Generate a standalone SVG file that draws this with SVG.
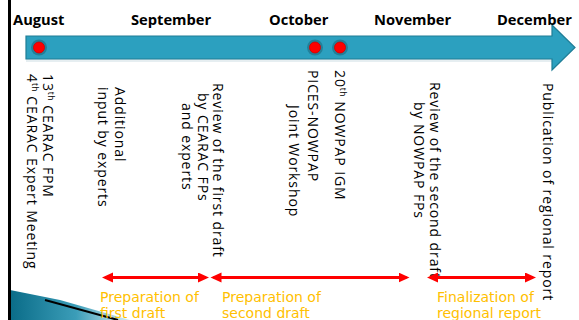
<svg xmlns="http://www.w3.org/2000/svg" width="579" height="320" viewBox="0 0 579 320">
<defs>
<style>
.month{font-family:"Open Sans","DejaVu Sans",sans-serif;font-weight:bold;font-size:14.7px;fill:#000}
.ev{font-family:"Open Sans","DejaVu Sans",sans-serif;font-size:14px;letter-spacing:0.9px;fill:#000}
.sup{font-size:8.5px;letter-spacing:0.3px}
.phase{font-family:"DejaVu Sans","Open Sans",sans-serif;font-size:14px;fill:#FFC000}
.conn line{stroke:#FF0000;stroke-width:3}
</style>
<marker id="ah" markerUnits="userSpaceOnUse" markerWidth="12" markerHeight="12" refX="8" refY="5" orient="auto-start-reverse">
<path d="M0,0 L11,5 L0,10 z" fill="#FF0000"/>
</marker>
<linearGradient id="curl" x1="0" y1="0" x2="1" y2="0">
<stop offset="0" stop-color="#0A6C88"/>
<stop offset="0.55" stop-color="#3B9DB8"/>
<stop offset="1" stop-color="#D8EFF5"/>
</linearGradient>
</defs>
<rect x="0" y="0" width="579" height="320" fill="#FFFFFF"/>
<!-- page-curl decoration -->
<polygon points="10,290 60,300 130,320 10,320" fill="url(#curl)"/>
<line x1="45" y1="300" x2="118" y2="320" stroke="#000" stroke-width="2"/>
<rect x="8" y="0" width="3" height="320" fill="#000"/>

<!-- timeline bar -->
<g id="timeline">
<rect x="26" y="59" width="526" height="3" fill="#E6EEF1"/>
<polygon points="26,36 552,36 552,25 575,47.5 552,70 552,59 26,59" fill="#2CA0BF" stroke="#1E7D96" stroke-width="1.2"/>
</g>

<g id="months">
<text class="month" x="13" y="25">August</text>
<text class="month" x="131" y="25">September</text>
<text class="month" x="269" y="25">October</text>
<text class="month" x="374" y="25">November</text>
<text class="month" x="497" y="25">December</text>
</g>

<g id="dot-aug">
<circle cx="39" cy="47.5" r="8" fill="#237F98"/>
<circle cx="39" cy="47.5" r="5.5" fill="#FF0000" stroke="#D00000" stroke-width="0.8"/>
</g>
<g id="dot-oct1">
<circle cx="315" cy="47.5" r="8" fill="#237F98"/>
<circle cx="315" cy="47.5" r="5.5" fill="#FF0000" stroke="#D00000" stroke-width="0.8"/>
</g>
<g id="dot-oct2">
<circle cx="340" cy="47.5" r="8" fill="#237F98"/>
<circle cx="340" cy="47.5" r="5.5" fill="#FF0000" stroke="#D00000" stroke-width="0.8"/>
</g>

<g id="ev-cearac">
<text class="ev" transform="translate(43,74) rotate(90)">13<tspan class="sup" dy="-5">th</tspan><tspan dy="5"> CEARAC FPM</tspan></text>
<text class="ev" transform="translate(27,74) rotate(90)">4<tspan class="sup" dy="-5">th</tspan><tspan dy="5"> CEARAC Expert Meeting</tspan></text>
</g>
<g id="ev-input">
<text class="ev" transform="translate(115,87) rotate(90)">Additional</text>
<text class="ev" transform="translate(98,87) rotate(90)">input by experts</text>
</g>
<g id="ev-review1">
<text class="ev" transform="translate(213,83) rotate(90)">Review of the first draft</text>
<text class="ev" transform="translate(198,93) rotate(90)">by CEARAC FPs</text>
<text class="ev" transform="translate(182,103) rotate(90)">and experts</text>
</g>
<g id="ev-workshop">
<text class="ev" transform="translate(308,70) rotate(90)">PICES-NOWPAP</text>
<text class="ev" transform="translate(289,105) rotate(90)">Joint Workshop</text>
</g>
<g id="ev-igm">
<text class="ev" transform="translate(335,70) rotate(90)">20<tspan class="sup" dy="-5">th</tspan><tspan dy="5"> NOWPAP IGM</tspan></text>
</g>
<g id="ev-review2">
<text class="ev" transform="translate(430,82) rotate(90)">Review of the second draft</text>
<text class="ev" transform="translate(414,102) rotate(90)">by NOWPAP FPs</text>
</g>
<g id="ev-publication">
<text class="ev" transform="translate(543,83) rotate(90)">Publication of regional report</text>
</g>

<g class="conn" id="connectors">
<line x1="105" y1="277.5" x2="206" y2="277.5" marker-start="url(#ah)" marker-end="url(#ah)"/>
<line x1="213.5" y1="277.5" x2="406.5" y2="277.5" marker-start="url(#ah)" marker-end="url(#ah)"/>
<line x1="430" y1="277.5" x2="533" y2="277.5" marker-start="url(#ah)" marker-end="url(#ah)"/>
</g>

<g id="phase1">
<text class="phase" x="100" y="302">Preparation of</text>
<text class="phase" x="100" y="318">first draft</text>
</g>
<g id="phase2">
<text class="phase" x="222" y="302">Preparation of</text>
<text class="phase" x="222" y="318">second draft</text>
</g>
<g id="phase3">
<text class="phase" x="437" y="302">Finalization of</text>
<text class="phase" x="437" y="318">regional report</text>
</g>
</svg>
